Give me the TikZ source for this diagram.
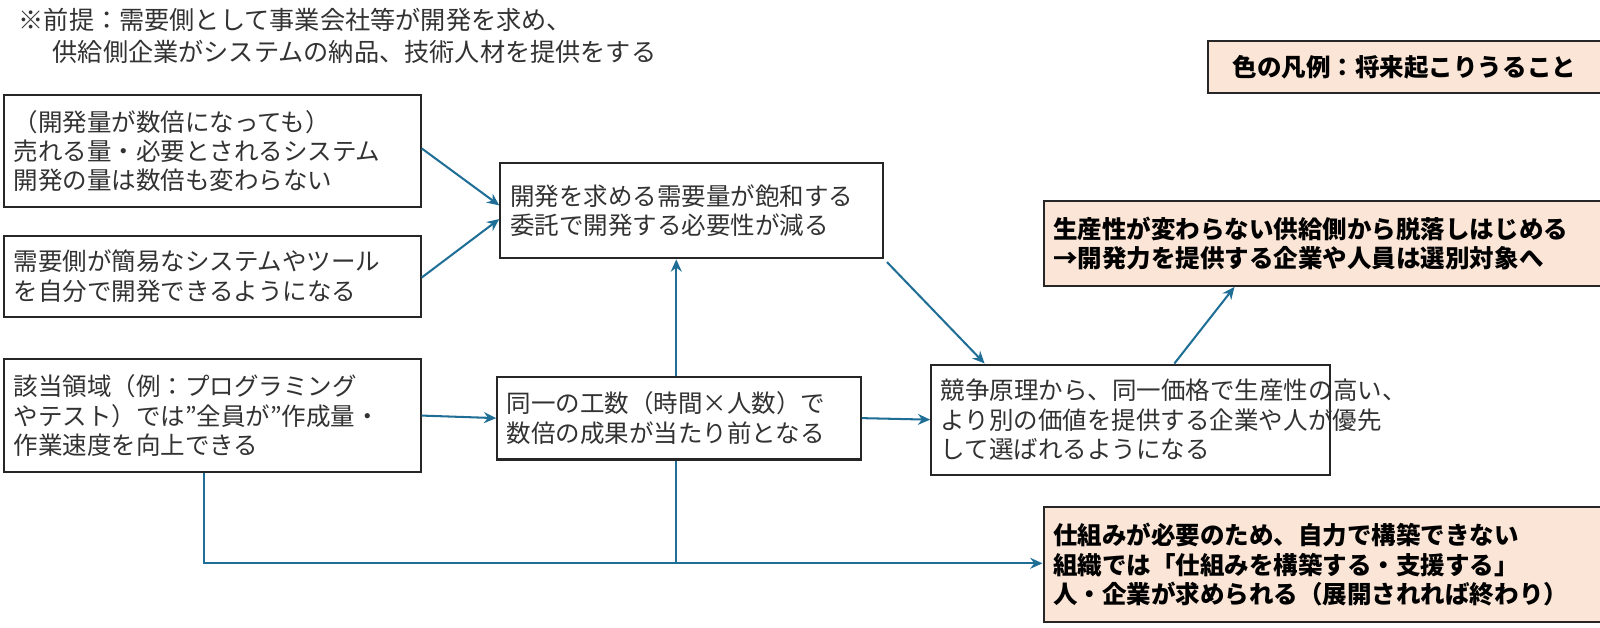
\documentclass[tikz,border=0pt]{standalone}
\usepackage{fontspec}
\setmainfont{Noto Sans CJK JP}
\usetikzlibrary{arrows.meta}
\definecolor{arr}{RGB}{31,110,150}
\definecolor{txt}{RGB}{50,50,50}
\definecolor{org}{RGB}{251,229,214}
\begin{document}
\begin{tikzpicture}[x=0.75pt,y=-0.75pt,
  box/.style={draw=black!85,line width=1.5pt,fill=white,align=left,inner sep=7pt,text=txt,
    font=\fontsize{18}{21.5}\selectfont},
  hot/.style={box,fill=org,text=black,font=\fontsize{18}{21.5}\selectfont\bfseries},
  con/.style={draw=arr,line width=1.5pt,-{Stealth[length=9pt,width=8pt]}},
  line/.style={draw=arr,line width=1.5pt}]
\useasboundingbox (0,0) rectangle (1567,615);
\node[anchor=north west,align=left,text=txt,font=\fontsize{18.5}{23}\selectfont,inner sep=0pt] (hd) at (18,8)
  {※前提：需要側として事業会社等が開発を求め、\\\hspace{1.35em}供給側企業がシステムの納品、技術人材を提供をする};
\node[hot,align=center,minimum width=288.75pt,minimum height=38.25pt] (lg) at (1375.5,65.5) {色の凡例：将来起こりうること};
\node[box,minimum width=306pt,minimum height=82.5pt,text width=292pt] (a) at (208,148)
  {（開発量が数倍になっても）\\売れる量・必要とされるシステム\\開発の量は数倍も変わらない};
\node[box,minimum width=306pt,minimum height=59.25pt,text width=292pt] (b) at (208,270.5)
  {需要側が簡易なシステムやツール\\を自分で開発できるようになる};
\node[box,minimum width=306pt,minimum height=82.5pt,text width=292pt] (c) at (208,407)
  {該当領域（例：プログラミング\\やテスト）では"全員が"作成量・\\作業速度を向上できる};
\node[box,minimum width=281.25pt,minimum height=69.75pt,text width=267pt] (d) at (677.5,206.5)
  {開発を求める需要量が飽和する\\委託で開発する必要性が減る};
\node[box,minimum width=267pt,minimum height=60.75pt,text width=253pt] (e) at (665,409.5)
  {同一の工数（時間×人数）で\\数倍の成果が当たり前となる};
\node[box,minimum width=293.25pt,minimum height=81pt,text width=279pt] (f) at (1107.5,411)
  {競争原理から、同一価格で生産性の高い、\\より別の価値を提供する企業や人が優先\\して選ばれるようになる};
\node[hot,minimum width=409.5pt,minimum height=62.25pt,text width=395pt] (g) at (1295,238.5)
  {生産性が変わらない供給側から脱落しはじめる\\→開発力を提供する企業や人員は選別対象へ};
\node[hot,minimum width=409.5pt,minimum height=84pt,text width=395pt] (h) at (1295,553)
  {仕組みが必要のため、自力で構築できない\\組織では「仕組みを構築する・支援する」\\人・企業が求められる（展開されれば終わり）};
\draw[con] ([yshift=2pt]a.east) -- ([yshift=4pt]d.west);
\draw[con] ([yshift=-1pt]b.east) -- ([yshift=-6pt]d.west);
\draw[con] (c.east) -- (e.west);
\draw[con] ([xshift=-2pt]e.north) -- ([xshift=-2pt]e.north |- d.south);
\draw[con] ([xshift=2pt,yshift=-2pt]d.south east) -- ([xshift=40pt]f.north west);
\draw[con] (e.east) -- (f.west);
\draw[con] ([xshift=32pt]f.north) -- ([xshift=141pt]g.south west);
\draw[con] ([xshift=-6pt]c.south) |- ([yshift=1pt]h.west);
\draw[line] ([xshift=-2pt]e.south) -- ([xshift=-2pt,yshift=1pt]e.south |- h.west);
\end{tikzpicture}
\end{document}
